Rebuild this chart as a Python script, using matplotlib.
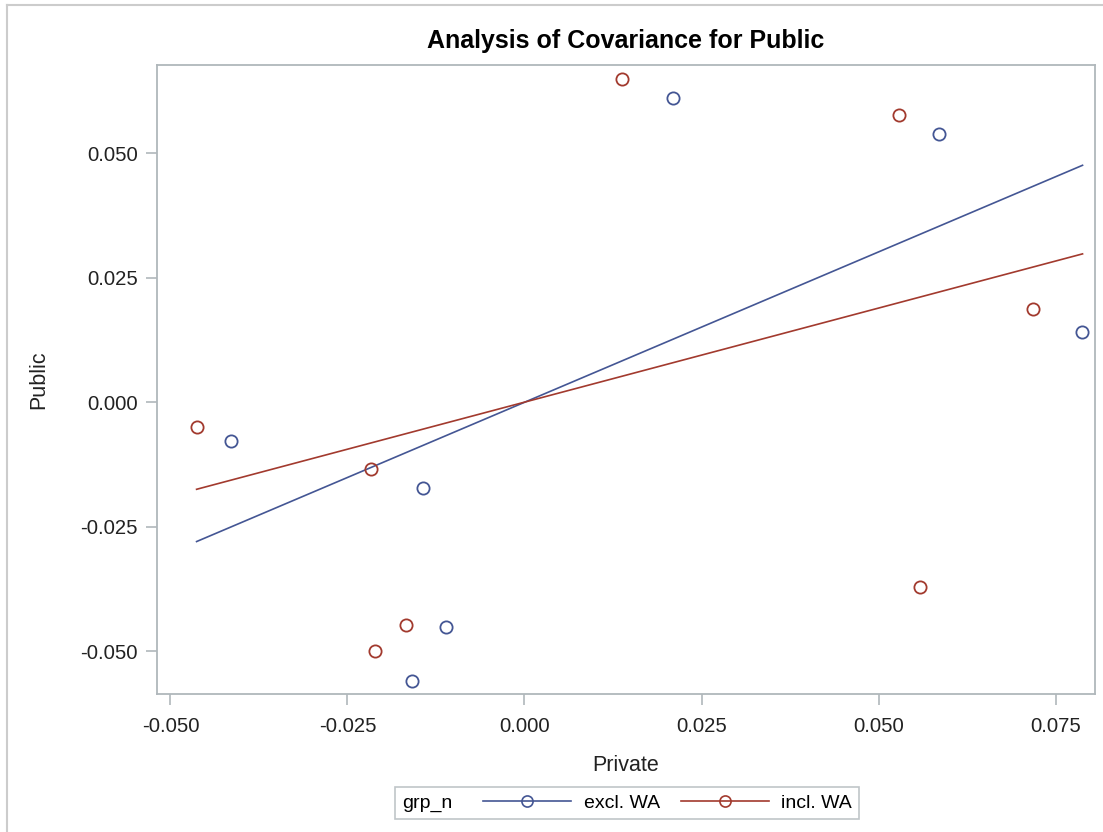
import matplotlib
matplotlib.use("Agg")
import matplotlib.pyplot as plt
from matplotlib.lines import Line2D
from matplotlib.offsetbox import HPacker

plt.rcParams['font.family'] = ['Liberation Sans', 'DejaVu Sans']

# ---- data ----
excl_x = [0.02095, 0.05854, 0.07872, -0.04144, -0.01429, -0.01108, -0.01593]
excl_y = [0.06118, 0.05383, 0.01404, -0.00780, -0.01718, -0.04511, -0.05596]
incl_x = [0.01384, 0.05292, 0.07184, -0.04629, -0.02163, -0.01677, -0.02107, 0.05585]
incl_y = [0.06494, 0.05764, 0.01867, -0.00504, -0.01342, -0.04483, -0.05005, -0.03719]
fit_x = [-0.0463, 0.0788]
fit_excl_y = [-0.0280, 0.0476]
fit_incl_y = [-0.0175, 0.0298]
xticks = [-0.050, -0.025, 0.000, 0.025, 0.050, 0.075]
yticks = [-0.050, -0.025, 0.000, 0.025, 0.050]
group_labels = ['excl. WA', 'incl. WA']

BLUE = '#445694'
RED = '#A23A2E'
FRAME = '#B0B7BB'

fig = plt.figure(figsize=(11.03, 8.32), dpi=100)
ax = fig.add_axes([157/1103, 1-694/832, (1095-157)/1103, (694-64.7)/832])

ax.plot(fit_x, fit_excl_y, color=BLUE, lw=1.2, zorder=2)
ax.plot(fit_x, fit_incl_y, color=RED, lw=1.2, zorder=2)
ax.plot(excl_x, excl_y, 'o', mfc='none', mec=BLUE, ms=8.8, mew=1.3, zorder=3)
ax.plot(incl_x, incl_y, 'o', mfc='none', mec=RED, ms=8.8, mew=1.3, zorder=3)

ax.set_xlim(-0.05189, 0.08056)
ax.set_ylim(-0.05863, 0.06781)
ax.set_xticks(xticks)
ax.set_yticks(yticks)
ax.set_xticklabels([f'{v:.3f}' for v in xticks])
ax.set_yticklabels([f'{v:.3f}' for v in yticks])
for s in ax.spines.values():
    s.set_color(FRAME)
    s.set_linewidth(1.3)
ax.tick_params(axis='both', colors=FRAME, labelcolor='#222222', labelsize=14.6,
               length=8, width=1.2, pad=6)
ax.tick_params(axis='x', pad=8.5)

ax.set_xlabel('Private', fontsize=15.5, color='#222222', labelpad=14)
ax.set_ylabel('Public', fontsize=15.5, color='#222222', labelpad=22)
ax.set_title('Analysis of Covariance for Public', fontsize=18, fontweight='bold',
             pad=12)

handles = [Line2D([], [], color=BLUE, lw=1.2, marker='o', mfc='none', mec=BLUE, ms=8, mew=1.2),
           Line2D([], [], color=RED, lw=1.2, marker='o', mfc='none', mec=RED, ms=8, mew=1.2)]
leg = fig.legend(handles, group_labels, title='grp_n', ncol=2, loc='center',
                 bbox_to_anchor=(627/1103, 1-803/832), fontsize=14,
                 title_fontsize=14, frameon=True, fancybox=False,
                 handlelength=4.5, handletextpad=0.65, columnspacing=1.1,
                 borderpad=0.35, borderaxespad=0)
leg._legend_box = HPacker(pad=leg.borderpad * leg._fontsize, sep=1.6 * leg._fontsize,
                          align='center',
                          children=[leg._legend_title_box, leg._legend_handle_box])
leg._legend_box.set_figure(fig)
leg._legend_box.axes = leg.axes
leg._legend_box.set_offset(leg._findoffset)
leg.get_frame().set_edgecolor(FRAME)
leg.get_frame().set_linewidth(1.2)

# outer screenshot frame (left & top)
fig.add_artist(Line2D([7/1103, 7/1103], [0, 1-5/832], transform=fig.transFigure,
                      color='#CCCCCC', lw=1.5))
fig.add_artist(Line2D([7/1103, 1], [1-5/832, 1-5/832], transform=fig.transFigure,
                      color='#CCCCCC', lw=1.5))

fig.savefig('out.png', dpi=100)
